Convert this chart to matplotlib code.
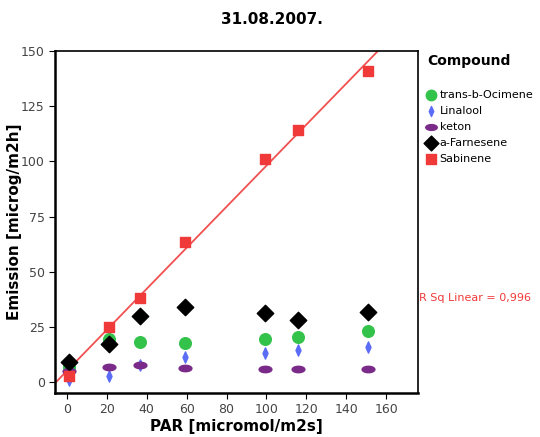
import numpy as np
import matplotlib
matplotlib.use("Agg")
import matplotlib.pyplot as plt
from matplotlib.path import Path

# PAR values (x) and emissions per compound
par = [1, 21, 36.5, 59, 99.5, 116, 151]
ocimene = [6.9, 19.3, 18.0, 17.6, 19.3, 20.5, 23.3]
linalool = [1.1, 2.6, 7.9, 11.4, 13.2, 14.3, 15.9]
keton = [5.0, 6.9, 7.5, 6.4, 5.7, 5.7, 5.7]
farnesene = [9.1, 17.3, 29.8, 34.2, 31.3, 28.3, 31.9]
sabinene = [2.9, 24.8, 38.1, 63.5, 101, 114.5, 141]

names = ["trans-b-Ocimene", "Linalool", "keton", "a-Farnesene", "Sabinene"]
r2_label = "R Sq Linear = 0,996"

# custom markers: ellipse and thin diamond
t = np.linspace(0, 2 * np.pi, 40)
ellipse = Path(np.column_stack([np.cos(t), 0.5 * np.sin(t)]), closed=True)
thin_diamond = Path([(0, 1), (0.45, 0), (0, -1), (-0.45, 0), (0, 1)], closed=True)

fig = plt.figure(figsize=(5.4, 4.37), dpi=100)
ax = fig.add_axes([0.102, 0.1007, 0.672, 0.782])

ax.scatter(par, ocimene, marker="o", s=70, color="#33c24a", zorder=3, label=names[0])
ax.scatter(par, linalool, marker=thin_diamond, s=65, color="#5b6cf7", zorder=3, label=names[1])
ax.scatter(par, keton, marker=ellipse, s=85, color="#7a2a88", zorder=3, label=names[2])
ax.scatter(par, farnesene, marker="D", s=70, color="black", zorder=4, label=names[3])
ax.scatter(par, sabinene, marker="s", s=60, color="#f03a3a", zorder=5, label=names[4])

# linear fit for Sabinene
b, a = np.polyfit(par, sabinene, 1)
xs = np.array([-6, 176])
ax.plot(xs, a + b * xs, color="#f05050", lw=1.3, zorder=2)

ax.set_xlim(-6, 176)
ax.set_ylim(-5, 150)
ax.set_xticks(range(0, 161, 20))
ax.set_yticks(range(0, 151, 25))
for s in ax.spines.values():
    s.set_linewidth(1.2)
ax.spines["left"].set_linewidth(1.8)
ax.spines["bottom"].set_linewidth(1.8)
ax.tick_params(direction="out", length=4, labelsize=9, labelcolor="#444444")

ax.set_xlabel("PAR [micromol/m2s]", fontsize=11, fontweight="bold", labelpad=2)
ax.set_ylabel("Emission [microg/m2h]", fontsize=11, fontweight="bold", labelpad=-1)
fig.text(0.504, 0.955, "31.08.2007.", ha="center", va="center", fontsize=11, fontweight="bold")

fig.text(0.868, 0.86, "Compound", ha="center", va="center", fontsize=10, fontweight="bold")
leg = fig.legend(loc="upper left", bbox_to_anchor=(0.778, 0.805), frameon=False,
                 fontsize=8, handletextpad=0.15, labelspacing=0.55, borderaxespad=0,
                 handlelength=1.2, markerscale=0.9)

fig.text(0.88, 0.318, r2_label, ha="center", va="center", fontsize=8, color="#f03a3a")

fig.savefig("out.png", dpi=100)
